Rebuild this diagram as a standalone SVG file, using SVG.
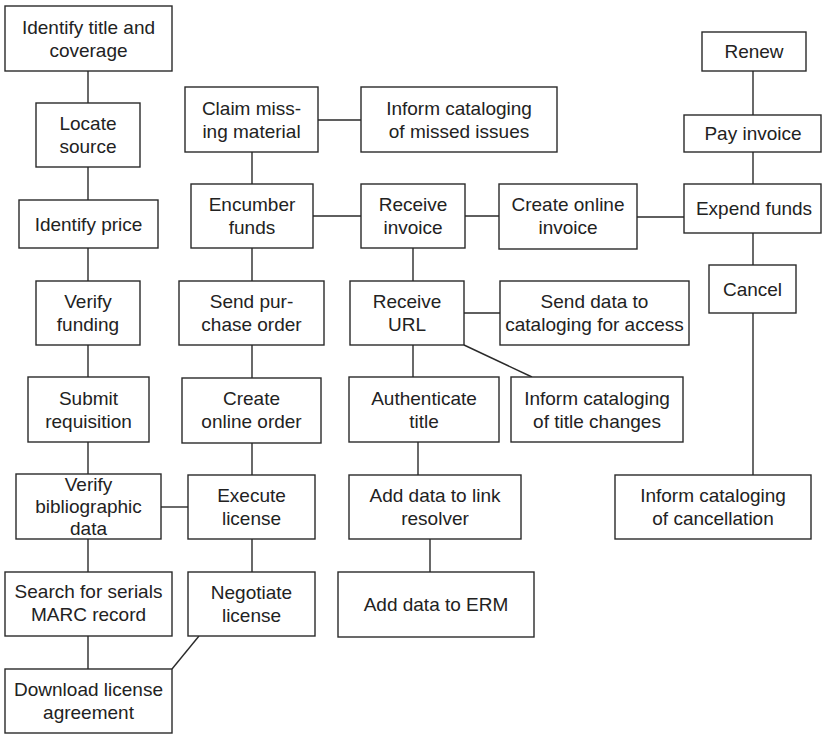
<svg xmlns="http://www.w3.org/2000/svg" width="822" height="734" viewBox="0 0 822 734">
<style>
rect.n{fill:#fff;stroke:#2a2a2a;stroke-width:1.4}
text{font-family:"Liberation Sans",Arial,Helvetica,sans-serif;font-size:19px;fill:#222;text-anchor:middle}
#connectors line{stroke:#2a2a2a;stroke-width:1.4}
</style>
<rect width="822" height="734" fill="#fff"/>
<g id="connectors">
<line x1="88" y1="71" x2="88" y2="103"/>
<line x1="88" y1="167" x2="88" y2="200"/>
<line x1="88" y1="248" x2="88" y2="281"/>
<line x1="88" y1="345" x2="88" y2="377"/>
<line x1="88" y1="442" x2="88" y2="474"/>
<line x1="88" y1="539" x2="88" y2="572"/>
<line x1="88" y1="636" x2="88" y2="669"/>
<line x1="252" y1="152" x2="252" y2="184"/>
<line x1="252" y1="248" x2="252" y2="281"/>
<line x1="252" y1="345" x2="252" y2="378"/>
<line x1="252" y1="443" x2="252" y2="475"/>
<line x1="252" y1="539" x2="252" y2="572"/>
<line x1="318" y1="120" x2="361" y2="120"/>
<line x1="313" y1="216" x2="361" y2="216"/>
<line x1="465" y1="216" x2="499" y2="216"/>
<line x1="637" y1="217" x2="684" y2="217"/>
<line x1="161" y1="507" x2="188" y2="507"/>
<line x1="199" y1="636" x2="172" y2="669"/>
<line x1="413" y1="248" x2="413" y2="281"/>
<line x1="413" y1="345" x2="413" y2="377"/>
<line x1="464" y1="313" x2="500" y2="313"/>
<line x1="464" y1="345" x2="532" y2="377"/>
<line x1="418" y1="442" x2="418" y2="475"/>
<line x1="430" y1="539" x2="430" y2="572"/>
<line x1="753" y1="71" x2="753" y2="115"/>
<line x1="753" y1="152" x2="753" y2="184"/>
<line x1="753" y1="233" x2="753" y2="265"/>
<line x1="753" y1="313" x2="753" y2="475"/>
</g>
<g id="n-title"><rect class="n" x="5" y="6" width="167" height="65"/><text x="88.5" y="34">Identify title and</text><text x="88.5" y="57">coverage</text></g>
<g id="n-locate"><rect class="n" x="36" y="103" width="104" height="64"/><text x="88" y="130">Locate</text><text x="88" y="153">source</text></g>
<g id="n-price"><rect class="n" x="19" y="200" width="139" height="48"/><text x="88.5" y="231">Identify price</text></g>
<g id="n-funding"><rect class="n" x="36" y="281" width="104" height="64"/><text x="88" y="308">Verify</text><text x="88" y="331">funding</text></g>
<g id="n-requisition"><rect class="n" x="28" y="377" width="121" height="65"/><text x="88.5" y="405">Submit</text><text x="88.5" y="428">requisition</text></g>
<g id="n-biblio"><rect class="n" x="16" y="474" width="145" height="65"/><text x="88.5" y="491">Verify</text><text x="88.5" y="513">bibliographic</text><text x="88.5" y="535">data</text></g>
<g id="n-search"><rect class="n" x="5" y="572" width="167" height="64"/><text x="88.5" y="598">Search for serials</text><text x="88.5" y="621">MARC record</text></g>
<g id="n-download"><rect class="n" x="5" y="669" width="167" height="64"/><text x="88.5" y="696">Download license</text><text x="88.5" y="719">agreement</text></g>
<g id="n-claim"><rect class="n" x="185" y="87" width="133" height="65"/><text x="251.5" y="115">Claim miss-</text><text x="251.5" y="138">ing material</text></g>
<g id="n-missed"><rect class="n" x="361" y="87" width="196" height="65"/><text x="459" y="115">Inform cataloging</text><text x="459" y="138">of missed issues</text></g>
<g id="n-encumber"><rect class="n" x="191" y="184" width="122" height="64"/><text x="252" y="211">Encumber</text><text x="252" y="234">funds</text></g>
<g id="n-sendpo"><rect class="n" x="179" y="281" width="145" height="64"/><text x="251.5" y="308">Send pur-</text><text x="251.5" y="331">chase order</text></g>
<g id="n-onlineorder"><rect class="n" x="182" y="378" width="139" height="65"/><text x="251.5" y="405">Create</text><text x="251.5" y="428">online order</text></g>
<g id="n-execute"><rect class="n" x="188" y="475" width="127" height="64"/><text x="251.5" y="502">Execute</text><text x="251.5" y="525">license</text></g>
<g id="n-negotiate"><rect class="n" x="188" y="572" width="127" height="64"/><text x="251.5" y="599">Negotiate</text><text x="251.5" y="622">license</text></g>
<g id="n-recinvoice"><rect class="n" x="361" y="184" width="104" height="64"/><text x="413" y="211">Receive</text><text x="413" y="234">invoice</text></g>
<g id="n-recurl"><rect class="n" x="350" y="281" width="114" height="64"/><text x="407" y="308">Receive</text><text x="407" y="331">URL</text></g>
<g id="n-auth"><rect class="n" x="349" y="377" width="150" height="65"/><text x="424" y="405">Authenticate</text><text x="424" y="428">title</text></g>
<g id="n-linkres"><rect class="n" x="349" y="475" width="172" height="64"/><text x="435" y="502">Add data to link</text><text x="435" y="525">resolver</text></g>
<g id="n-erm"><rect class="n" x="338" y="572" width="196" height="65"/><text x="436" y="611">Add data to ERM</text></g>
<g id="n-senddata"><rect class="n" x="500" y="281" width="189" height="64"/><text x="594.5" y="308">Send data to</text><text x="594.5" y="331">cataloging for access</text></g>
<g id="n-titlechanges"><rect class="n" x="511" y="377" width="172" height="65"/><text x="597" y="405">Inform cataloging</text><text x="597" y="428">of title changes</text></g>
<g id="n-onlineinvoice"><rect class="n" x="499" y="184" width="138" height="65"/><text x="568" y="211">Create online</text><text x="568" y="234">invoice</text></g>
<g id="n-renew"><rect class="n" x="702" y="32" width="104" height="39"/><text x="754" y="58">Renew</text></g>
<g id="n-pay"><rect class="n" x="684" y="115" width="137" height="37"/><text x="753" y="140">Pay invoice</text></g>
<g id="n-expend"><rect class="n" x="684" y="184" width="137" height="49"/><text x="754" y="215">Expend funds</text></g>
<g id="n-cancel"><rect class="n" x="709" y="265" width="87" height="48"/><text x="752.5" y="296">Cancel</text></g>
<g id="n-cancellation"><rect class="n" x="615" y="475" width="196" height="64"/><text x="713" y="502">Inform cataloging</text><text x="713" y="525">of cancellation</text></g>
</svg>
